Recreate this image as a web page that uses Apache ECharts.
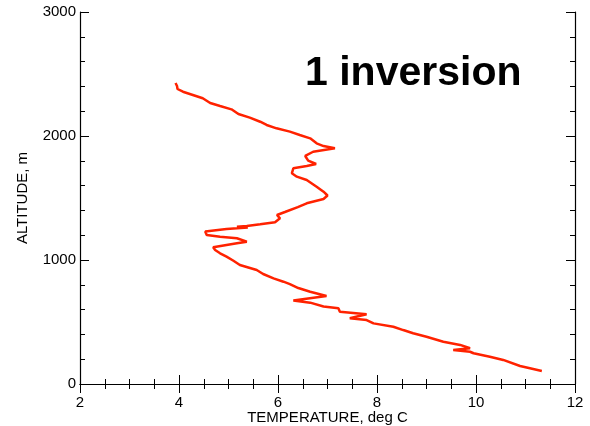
<!DOCTYPE html>
<html>
<head>
<meta charset="utf-8">
<script src="https://cdn.jsdelivr.net/npm/echarts@6/dist/echarts.min.js"></script>
<style>html,body{margin:0;padding:0;background:#fff}#c{width:590px;height:426px}</style>
</head>
<body>
<div id="c"></div>
<script>
// Temperature (deg C) and altitude (m) along the sounding (top to bottom)
var temperature = [3.93,3.96,3.97,4.08,4.28,4.48,4.63,4.83,5.06,5.20,5.43,5.64,5.77,5.97,6.24,6.44,6.65,6.78,6.92,7.15,
  6.71,6.55,6.61,6.77,6.58,6.31,6.28,6.38,6.58,6.78,6.92,7.00,6.92,6.58,6.40,6.14,5.98,6.04,5.94,5.64,
  5.37,5.17,5.39,4.96,4.53,4.56,4.83,5.17,5.37,5.17,4.96,4.69,4.73,4.83,4.96,5.10,5.23,5.57,5.70,5.91,
  6.11,6.24,6.41,6.65,6.98,6.31,6.65,6.92,7.22,7.25,7.79,7.45,7.79,7.93,8.33,8.53,8.73,9.00,9.34,9.68,
  9.88,9.54,9.88,9.95,10.28,10.55,10.89,11.09,11.33];
var altitude = [2427,2403,2379,2357,2331,2304,2266,2242,2215,2177,2148,2115,2089,2062,2035,2008,1981,1941,1919,1901,
  1873,1839,1801,1774,1758,1740,1699,1672,1645,1591,1551,1520,1492,1457,1427,1387,1363,1336,1304,1288,
  1274,1269,1262,1250,1230,1202,1188,1175,1148,1135,1121,1102,1081,1054,1027,994,960,919,887,852,
  825,806,774,744,710,673,656,625,610,583,562,530,516,489,462,435,409,381,341,315,
  288,274,260,248,220,194,145,127,105];
var xTicks = [2,4,6,8,10,12];
var yTicks = [0,1000,2000,3000];
var titleText = '1 inversion';
var xName = 'TEMPERATURE, deg C';
var yName = 'ALTITUDE, m';

var pts = temperature.map(function(t,i){ return [t, altitude[i]]; });
var font = 'Liberation Sans, Arial, Helvetica, sans-serif';
function ax(extra){
  return Object.assign({
    axisLine: {show: true, lineStyle: {color: '#000', width: 1.2}},
    axisTick: {show: true, inside: true, length: 9, lineStyle: {color: '#000', width: 1}},
    splitLine: {show: false}
  }, extra);
}

var chart = echarts.init(document.getElementById('c'), null, {renderer: 'canvas'});
chart.setOption({
  animation: false,
  backgroundColor: '#fff',
  grid: {left: 80, right: 15, top: 12, bottom: 42, containLabel: false, outerBoundsMode: 'none'},
  xAxis: [
    ax({type: 'value', position: 'bottom', min: xTicks[0], max: xTicks[xTicks.length-1], interval: 2,
      minorTick: {show: true, splitNumber: 4, length: 5, lineStyle: {color: '#000'}},
      axisLabel: {color: '#000', fontSize: 15, fontFamily: font, margin: 11,
        formatter: function(v){ return String(v); }},
      name: xName, nameLocation: 'middle', nameGap: 26, nameMoveOverlap: false,
      nameTextStyle: {color: '#000', fontSize: 15, fontFamily: font}}),
    ax({type: 'value', position: 'top', min: xTicks[0], max: xTicks[xTicks.length-1], interval: 2,
      minorTick: {show: true, splitNumber: 4, length: 5, lineStyle: {color: '#000'}},
      axisLabel: {show: false}})
  ],
  yAxis: [
    ax({type: 'value', position: 'left', min: yTicks[0], max: yTicks[yTicks.length-1], interval: 1000,
      minorTick: {show: true, splitNumber: 5, length: 5, lineStyle: {color: '#000'}},
      axisLabel: {color: '#000', fontSize: 15, fontFamily: font, margin: 4,
        formatter: function(v){ return String(v); }},
      name: yName, nameLocation: 'middle', nameGap: 50, nameRotate: 90, nameMoveOverlap: false,
      nameTextStyle: {color: '#000', fontSize: 15, fontFamily: font}}),
    ax({type: 'value', position: 'right', min: yTicks[0], max: yTicks[yTicks.length-1], interval: 1000,
      minorTick: {show: true, splitNumber: 5, length: 5, lineStyle: {color: '#000'}},
      axisLabel: {show: false}})
  ],
  graphic: [{
    type: 'text', left: 305, top: 53,
    style: {text: titleText, fill: '#000', font: 'bold 41px ' + font}
  }],
  series: [{
    type: 'line', xAxisIndex: 0, yAxisIndex: 0, data: pts,
    showSymbol: false, symbol: 'none',
    lineStyle: {color: '#ff2200', width: 2.5}, z: 3
  }]
});
</script>
</body>
</html>
